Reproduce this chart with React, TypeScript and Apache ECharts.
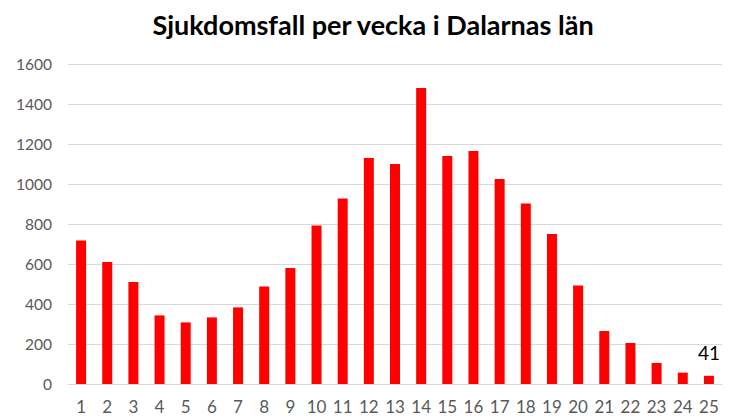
import React, { useEffect, useRef } from "react";
import * as echarts from "echarts";

const weeks = ["1","2","3","4","5","6","7","8","9","10","11","12","13","14","15","16","17","18","19","20","21","22","23","24","25"];
const cases = [718, 610, 510, 343, 308, 333, 383, 487, 580, 793, 927, 1130, 1100, 1480, 1140, 1165, 1025, 902, 750, 492, 265, 205, 105, 57, 41];
const yTicks = { min: 0, max: 1600, interval: 200 };
const titleText = "Sjukdomsfall per vecka i Dalarnas län";

export default function App() {
  const ref = useRef<HTMLDivElement>(null);
  useEffect(() => {
    if (!ref.current) return;
    const chart = echarts.init(ref.current, null, { renderer: "svg" });
    const font = "Lato, 'Open Sans', sans-serif";
    chart.setOption({
      animation: false,
      backgroundColor: "#ffffff",
      title: {
        text: titleText,
        left: "center",
        top: 6,
        textStyle: { fontFamily: font, fontSize: 27, fontWeight: "bold", color: "#000000" },
      },
      grid: { left: 68, right: 24, top: 64, bottom: 35 },
      xAxis: {
        type: "category",
        data: weeks,
        axisLine: { lineStyle: { color: "#d9d9d9", width: 1 } },
        axisTick: { show: false },
        axisLabel: { color: "#595959", fontFamily: font, fontSize: 17, margin: 14 },
      },
      yAxis: {
        type: "value",
        min: yTicks.min,
        max: yTicks.max,
        interval: yTicks.interval,
        axisLine: { show: false },
        axisTick: { show: false },
        splitLine: { lineStyle: { color: "#d9d9d9", width: 1 } },
        axisLabel: { color: "#595959", fontFamily: font, fontSize: 15.5, margin: 16, formatter: (v: number) => String(v) },
      },
      series: [
        {
          type: "bar",
          data: cases.map((v, i) =>
            i === cases.length - 1
              ? { value: v, label: { show: true, position: "top", distance: 14, color: "#000000", fontSize: 19, fontFamily: font } }
              : v
          ),
          barWidth: 10,
          itemStyle: { color: "#ff0000" },
        },
      ],
    });
    return () => chart.dispose();
  }, []);
  return <div ref={ref} style={{ position: "fixed", left: 0, top: 0, width: 746, height: 419 }} />;
}
